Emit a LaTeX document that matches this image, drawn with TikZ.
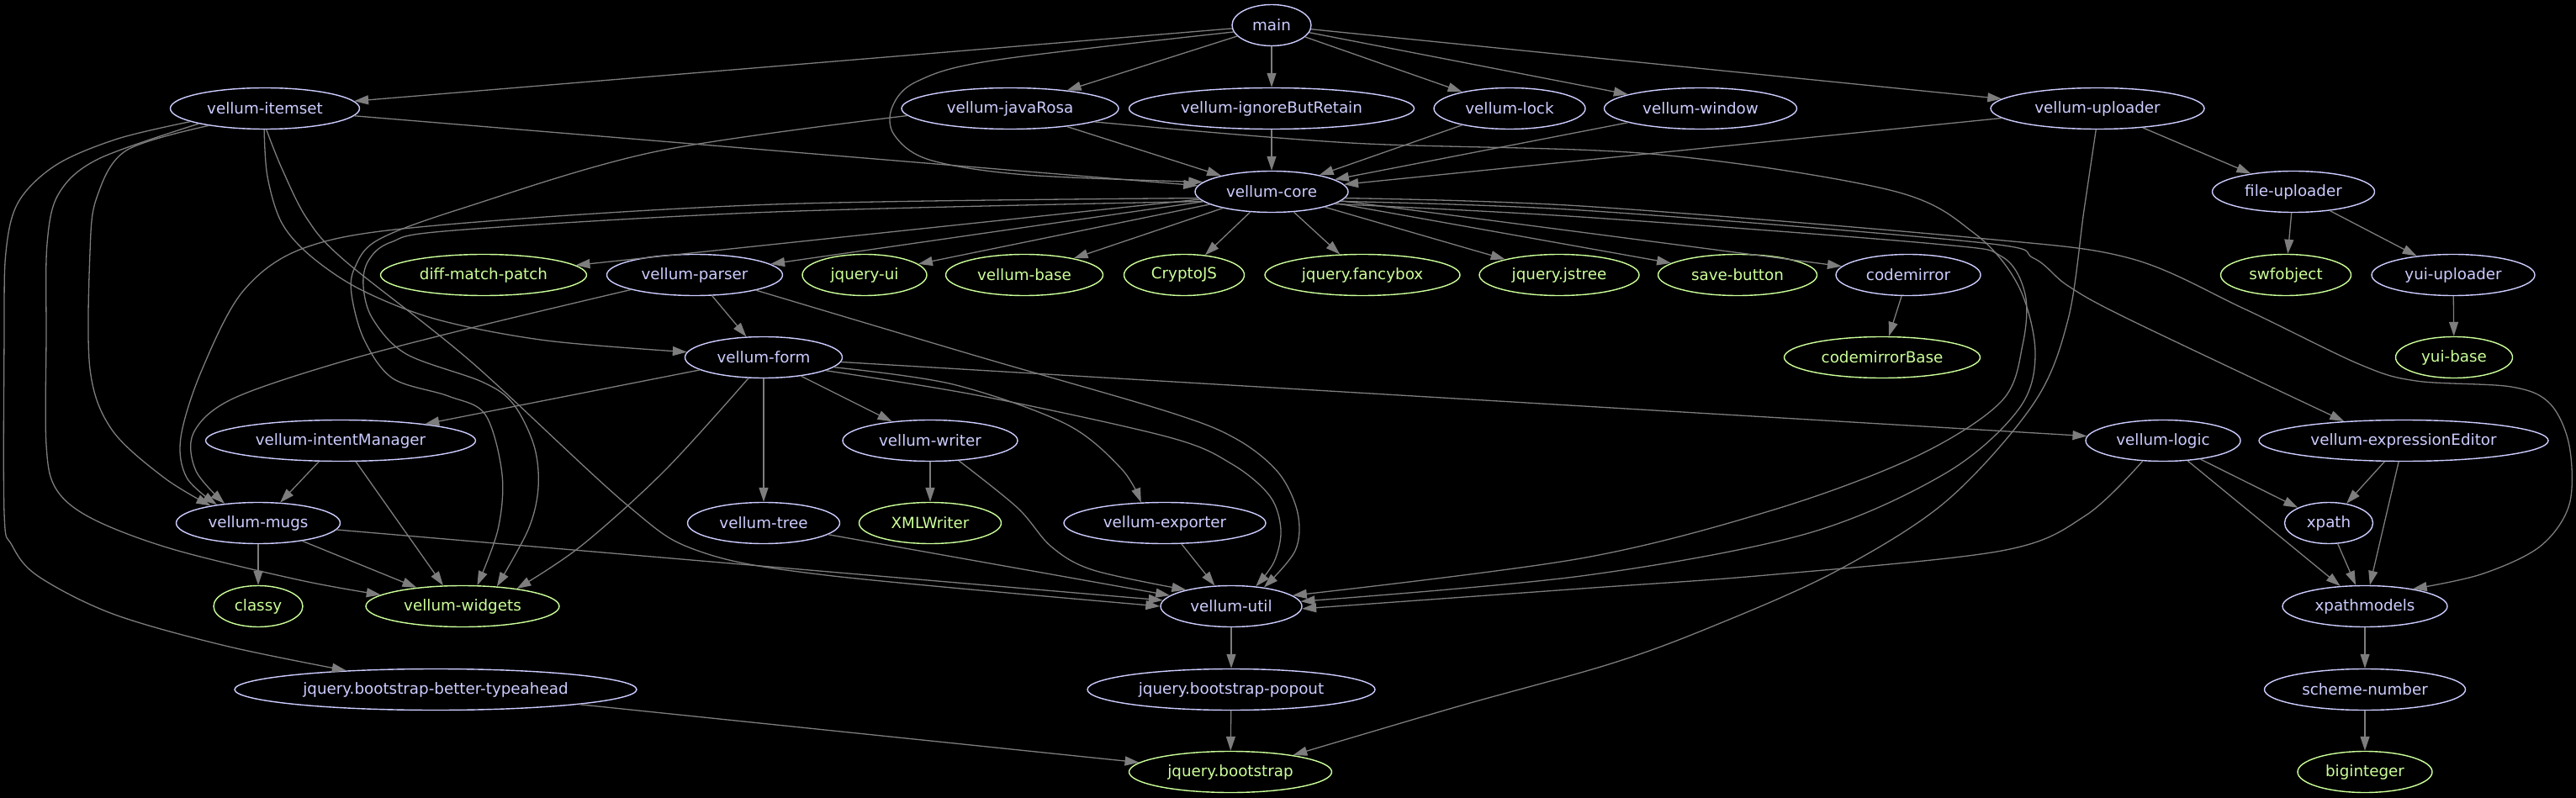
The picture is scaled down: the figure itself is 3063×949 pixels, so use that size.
\documentclass[tikz,border=0pt]{standalone}
\usepackage{fontspec}
\setmainfont{DejaVu Sans}
\usetikzlibrary{shapes.geometric,arrows.meta}
\definecolor{lav}{RGB}{204,204,255}
\definecolor{grn}{RGB}{204,255,153}
\definecolor{edgec}{RGB}{125,125,125}
\newcommand\lb[1]{\makebox[0pt]{#1}}
\begin{document}
\begin{tikzpicture}[x=1pt,y=-1pt,
  nd/.style={ellipse, draw, line width=1.4pt, inner sep=0pt, minimum height=49pt, font=\fontsize{18.3pt}{22pt}\selectfont},
  lv/.style={nd, draw=lav, text=lav},
  gr/.style={nd, draw=grn, text=grn},
  e/.style={draw=edgec, line width=1.3pt, -{Triangle[length=17pt,width=11pt]}},
  sm/.style={smooth, tension=0.55}]
\fill[black] (0,0) rectangle (3063,949);
\useasboundingbox (0,0) rectangle (3063,949);
% nodes
\node[lv, minimum width=94pt]  (main) at (1512,30) {\lb{main}};
\node[lv, minimum width=225pt] (itemset) at (315,129) {\lb{vellum-itemset}};
\node[lv, minimum width=258pt] (javarosa) at (1201,129) {\lb{vellum-javaRosa}};
\node[lv, minimum width=339pt] (ignore) at (1512,129) {\lb{vellum-ignoreButRetain}};
\node[lv, minimum width=180pt] (lock) at (1795,129) {\lb{vellum-lock}};
\node[lv, minimum width=229pt] (window) at (2022,129) {\lb{vellum-window}};
\node[lv, minimum width=254pt] (uploader) at (2494,129) {\lb{vellum-uploader}};
\node[lv, minimum width=182pt] (core) at (1512,228) {\lb{vellum-core}};
\node[lv, minimum width=193pt] (fileup) at (2727,228) {\lb{file-uploader}};
\node[gr, minimum width=245pt] (dmp) at (575,327) {\lb{diff-match-patch}};
\node[lv, minimum width=209pt] (parser) at (826,327) {\lb{vellum-parser}};
\node[gr, minimum width=148pt] (jqui) at (1028,327) {\lb{jquery-ui}};
\node[gr, minimum width=187pt] (vbase) at (1218,327) {\lb{vellum-base}};
\node[gr, minimum width=143pt] (crypto) at (1408,327) {\lb{CryptoJS}};
\node[gr, minimum width=232pt] (fancy) at (1620,327) {\lb{jquery.fancybox}};
\node[gr, minimum width=190pt] (jstree) at (1854,327) {\lb{jquery.jstree}};
\node[gr, minimum width=189pt] (save) at (2066,327) {\lb{save-button}};
\node[lv, minimum width=172pt] (codem) at (2269,327) {\lb{codemirror}};
\node[gr, minimum width=155pt] (swf) at (2718,327) {\lb{swfobject}};
\node[lv, minimum width=194pt] (yuiup) at (2917,327) {\lb{yui-uploader}};
\node[lv, minimum width=187pt] (form) at (908,425) {\lb{vellum-form}};
\node[gr, minimum width=233pt] (cmbase) at (2238,425) {\lb{codemirrorBase}};
\node[gr, minimum width=139pt] (yuibase) at (2918,425) {\lb{yui-base}};
\node[lv, minimum width=321pt] (intent) at (405,524) {\lb{vellum-intentManager}};
\node[lv, minimum width=208pt] (writer) at (1106,524) {\lb{vellum-writer}};
\node[lv, minimum width=184pt] (logic) at (2572,524) {\lb{vellum-logic}};
\node[lv, minimum width=344pt] (expr) at (2858,524) {\lb{vellum-expressionEditor}};
\node[lv, minimum width=195pt] (mugs) at (307,622) {\lb{vellum-mugs}};
\node[lv, minimum width=181pt] (tree) at (908,622) {\lb{vellum-tree}};
\node[gr, minimum width=169pt] (xmlw) at (1106,622) {\lb{XMLWriter}};
\node[lv, minimum width=240pt] (exporter) at (1385,622) {\lb{vellum-exporter}};
\node[lv, minimum width=105pt] (xpath) at (2769,622) {\lb{xpath}};
\node[gr, minimum width=106pt] (classy) at (307,721) {\lb{classy}};
\node[gr, minimum width=230pt] (widgets) at (550,721) {\lb{vellum-widgets}};
\node[lv, minimum width=168pt] (util) at (1464,721) {\lb{vellum-util}};
\node[lv, minimum width=196pt] (xpm) at (2812,721) {\lb{xpathmodels}};
\node[lv, minimum width=478pt] (typeahead) at (518,820) {\lb{jquery.bootstrap-better-typeahead}};
\node[lv, minimum width=342pt] (popout) at (1464,820) {\lb{jquery.bootstrap-popout}};
\node[lv, minimum width=239pt] (scheme) at (2812,820) {\lb{scheme-number}};
\node[gr, minimum width=241pt] (bootstrap) at (1463,918) {\lb{jquery.bootstrap}};
\node[gr, minimum width=160pt] (bigint) at (2812,918) {\lb{biginteger}};
% straight edges
\foreach \a/\b in {main/itemset, main/javarosa, main/ignore, main/lock, main/window, main/uploader,
  javarosa/core, ignore/core, lock/core, window/core, uploader/core, itemset/core,
  uploader/fileup, fileup/swf, fileup/yuiup, yuiup/yuibase,
  core/dmp, core/parser, core/jqui, core/vbase, core/crypto, core/fancy, core/jstree, core/save, core/codem,
  codem/cmbase, parser/form, form/intent, form/tree, form/writer, form/logic,
  mugs/classy, mugs/widgets, writer/xmlw, exporter/util,
  util/popout, popout/bootstrap, typeahead/bootstrap,
  logic/xpath, logic/xpm, expr/xpath, expr/xpm, xpath/xpm, xpm/scheme, scheme/bigint}
  \draw[e] (\a) -- (\b);
\draw[e] (mugs) -- (util.175);
\draw[e] (tree) -- (util.170);
\draw[e] (intent.224) -- (mugs.43);
\draw[e] (intent.306) -- (widgets.133);
% curved edges
\draw[e] plot[sm] coordinates {(main.190) (1180,72) (1090,97) (1061,127) (1063,160) (1105,190) (1220,208) (core.172)};
\draw[e] plot[sm] coordinates {(itemset.268) (318,210) (335,265) (370,305) (430,345) (520,380) (650,405) (form.176)};
\draw[e] plot[sm] coordinates {(itemset.274) (335,200) (365,260) (410,310) (560,430) (745,600) (830,655) (982,684) (util.180)};
\draw[e] plot[sm] coordinates {(itemset.190) (140,165) (67,196) (22,240) (7,300) (5,400) (5,610) (14,648) (45,685) (134,730) (268,768) (typeahead.168)};
\draw[e] plot[sm] coordinates {(itemset.193) (117,189) (70,230) (56,290) (55,400) (55,529) (67,582) (110,617) (205,653) (357,690) (widgets.172)};
\draw[e] plot[sm] coordinates {(itemset.197) (150,179) (115,235) (107,300) (107,439) (133,511) (195,568) (mugs.160)};
\draw[e] plot[sm] coordinates {(parser.193) (560,390) (400,432) (275,475) (230,515) (233,560) (mugs.150)};
\draw[e] plot[sm] coordinates {(core.185) (920,243) (520,268) (367,293) (290,345) (240,440) (215,520) (222,568) (mugs.156)};
\draw[e] plot[sm] coordinates {(core.188) (920,252) (540,274) (465,288) (438,310) (432,340) (443,379) (483,421) (573,454) (610,480) (635,530) (640,580) (628,630) (widgets.30)};
\draw[e] plot[sm] coordinates {(javarosa.184) (781,180) (552,247) (450,285) (422,318) (418,350) (433,404) (467,450) (533,471) (577,493) (597,564) (592,630) (widgets.55)};
\draw[e] plot[sm] coordinates {(form.234) (790,560) (690,650) (widgets.18)};
\draw[e] plot[sm] coordinates {(form.352) (1133,457) (1267,504) (1333,557) (exporter.139)};
\draw[e] plot[sm] coordinates {(form.348) (1167,471) (1390,520) (1465,552) (1510,590) (1523,630) (1515,668) (util.39)};
\draw[e] plot[sm] coordinates {(parser.346) (1160,423) (1390,490) (1470,522) (1520,562) (1543,610) (1540,655) (util.30)};
\draw[e] plot[sm] coordinates {(writer.325) (1210,604) (1250,650) (1300,678) (util.160)};
\draw[e] plot[sm] coordinates {(logic.225) (2480,613) (2380,655) (2100,684) (1880,700) (util.358)};
\draw[e] plot[sm] coordinates {(core.349) (1880,258) (2300,290) (2380,305) (2408,350) (2405,410) (2380,477) (2280,542) (2113,605) (1880,664) (util.10)};
\draw[e] plot[sm] coordinates {(javarosa.351) (1606,170) (1963,183) (2247,226) (2347,277) (2400,340) (2420,420) (2400,487) (2313,563) (2147,635) (1880,685) (util.4)};
\draw[e] plot[sm] coordinates {(uploader.266) (2478,250) (2459,380) (2418,480) (2313,597) (2180,681) (2031,747) (1913,790) (1734,840) (bootstrap.15)};
\draw[e] plot[sm] coordinates {(core.355) (1880,245) (2350,283) (2532,307) (2668,367) (2805,433) (2873,453) (2986,460) (3032,480) (3055,530) (3055,600) (3020,650) (2950,683) (xpm.20)};
\draw[e] plot[sm] coordinates {(core.352) (1880,250) (2350,288) (2418,307) (2459,340) (2532,380) (expr.162)};
\end{tikzpicture}
\end{document}
